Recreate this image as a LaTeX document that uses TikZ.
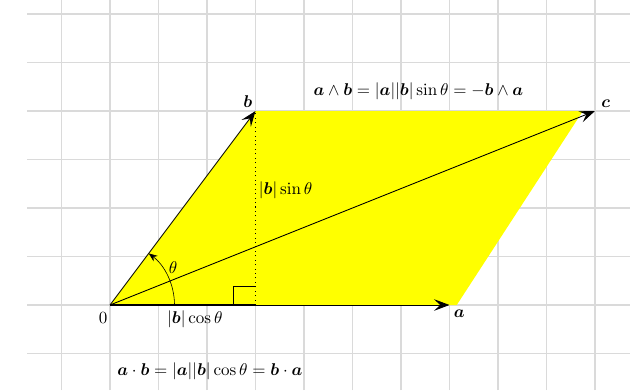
\documentclass[tikz,border=0pt]{standalone}
\usepackage{amsmath,amssymb,bm}
\usepackage{xcolor}
\usepackage{tikz}
\usetikzlibrary{arrows.meta,calc}
\definecolor{cGrid}{RGB}{218,218,218}
\definecolor{cFill}{RGB}{255,255,0}

\begin{document}
\begin{tikzpicture}[font=\small]
\tikzset{
 gl/.style={cGrid,line width=0.8pt},
 vec/.style={-{Stealth[length=3.2mm,width=2.4mm,inset=1.3mm]},line width=0.5pt},
 lb/.style={inner sep=1pt,font=\normalsize}
}
\useasboundingbox (-2.268,-1.753) rectangle (10.722,6.289);
\foreach \y in {-1,...,6} \draw[gl] (-1.71,\y) -- (10.722,\y);
\foreach \x in {-1,...,10} \draw[gl] (\x,-1.753) -- (\x,6.289);

\coordinate (O) at (0,0);
\coordinate (A) at (7,0);
\coordinate (B) at (3,4);
\coordinate (C) at (10,4);
\coordinate (P) at (3,0);
\fill[cFill] (O) -- (7.15,0) -- (9.75,4) -- (B) -- cycle;

\draw[vec] (O) -- (A);
\draw[vec] (O) -- (B);
\draw[vec] (O) -- (C);
\draw[line width=1.6pt] (O) -- (P);
\draw[dotted,line width=0.6pt] (P) -- (B);
\draw[line width=0.7pt] (2.55,0) -- (2.55,0.38) -- (3,0.38);
\draw[-{Stealth[length=1.8mm,width=1.4mm]},line width=0.35pt] (1.33,0) arc[start angle=0,end angle=53.13,radius=1.33];

\node[lb] (n0) at (-0.14,-0.26) {$0$};
\node[lb] (na) at (7.2,-0.18) {$\bm{a}$};
\node[lb] (nb) at (2.84,4.2) {$\bm{b}$};
\node[lb] (nc) at (10.22,4.16) {$\bm{c}$};
\node[lb] (nt) at (1.3,0.78) {$\theta$};
\node[lb,anchor=west] (ns) at (3.03,2.37) {$\lvert\bm{b}\rvert\sin\theta$};
\node[lb] (nk) at (1.75,-0.3) {$\lvert\bm{b}\rvert\cos\theta$};
\node[lb] (nw) at (6.36,4.4) {$\bm{a}\wedge\bm{b}=\lvert\bm{a}\rvert\lvert\bm{b}\rvert\sin\theta=-\bm{b}\wedge\bm{a}$};
\node[lb] (nd) at (2.06,-1.36) {$\bm{a}\cdot\bm{b}=\lvert\bm{a}\rvert\lvert\bm{b}\rvert\cos\theta=\bm{b}\cdot\bm{a}$};
\end{tikzpicture}
\end{document}
